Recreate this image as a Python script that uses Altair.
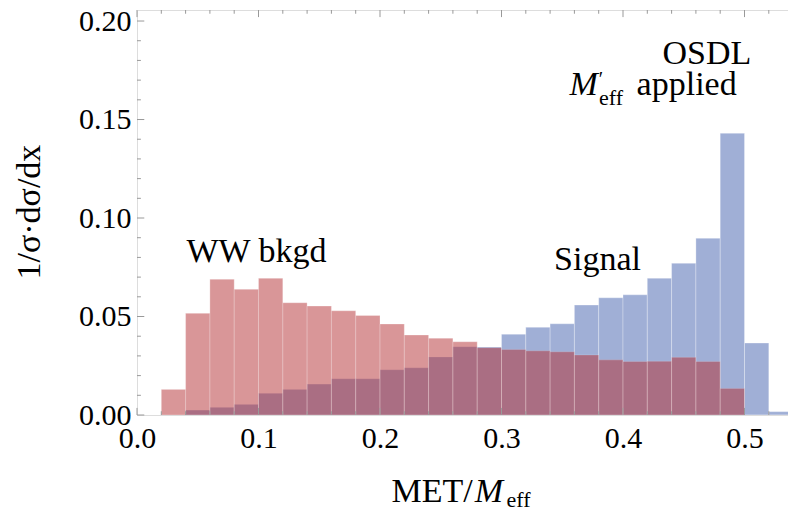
import altair as alt
import pandas as pd

# ---- data ----
bin_start = [0.02, 0.04, 0.06, 0.08, 0.10, 0.12, 0.14, 0.16, 0.18, 0.20, 0.22, 0.24, 0.26,
             0.28, 0.30, 0.32, 0.34, 0.36, 0.38, 0.40, 0.42, 0.44, 0.46, 0.48, 0.50, 0.52]
bin_width = 0.02
ww_bkgd = [0.0130, 0.0516, 0.0689, 0.0638, 0.0694, 0.0570, 0.0553, 0.0529, 0.0505, 0.0462,
           0.0406, 0.0390, 0.0372, 0.0342, 0.0333, 0.0326, 0.0321, 0.0305, 0.0280, 0.0272,
           0.0273, 0.0293, 0.0272, 0.0135, 0.0, 0.0]
signal = [0.0, 0.0025, 0.0039, 0.0054, 0.0110, 0.0130, 0.0157, 0.0184, 0.0184, 0.0230,
          0.0240, 0.0295, 0.0347, 0.0345, 0.0410, 0.0445, 0.0463, 0.0558, 0.0595, 0.0610,
          0.0694, 0.0770, 0.0897, 0.1430, 0.0365, 0.0017]

x_labels = [0.0, 0.1, 0.2, 0.3, 0.4, 0.5]
y_labels = [0.00, 0.05, 0.10, 0.15, 0.20]
x_minor_step = 0.02
y_minor_step = 0.01

X_MAX = 0.5358
Y_MAX = 0.2056

bars = pd.DataFrame({
    "x": bin_start,
    "x2": [b + bin_width for b in bin_start],
    "ww": ww_bkgd,
    "sig": signal,
})

xs = alt.Scale(domain=[0, X_MAX], nice=False, zero=False)
ys = alt.Scale(domain=[0, Y_MAX], nice=False, zero=False)

FONT = "'Liberation Serif', 'Times New Roman', Times, serif"

base = alt.Chart(bars)

x_axis = alt.Axis(values=x_labels, format=".1f", labelFont=FONT, labelFontSize=30,
                  labelColor="black", domain=False, ticks=False, tickSize=0, grid=False,
                  labelPadding=8, labelFlush=False, labelOverlap=False, title=None)
y_axis = alt.Axis(values=y_labels, format=".2f", labelFont=FONT, labelFontSize=30,
                  labelColor="black", domain=False, ticks=False, tickSize=0, grid=False,
                  labelPadding=6, labelFlush=False, labelOverlap=False, title=None)

sig_bars = base.mark_rect(color="#A0AFD6", stroke="white", strokeOpacity=0.35,
                          strokeWidth=0.8, clip=True).encode(
    x=alt.X("x:Q", scale=xs, axis=x_axis),
    x2="x2:Q",
    y=alt.Y("sig:Q", scale=ys, axis=y_axis),
    y2=alt.datum(0),
)
ww_bars = base.mark_rect(color="#B52F33", opacity=0.5, stroke="white", strokeOpacity=0.35,
                         strokeWidth=0.8, clip=True).encode(
    x=alt.X("x:Q", scale=xs),
    x2="x2:Q",
    y=alt.Y("ww:Q", scale=ys),
    y2=alt.datum(0),
)

# ---- frame ticks (inward, Mathematica style) ----
tick_rows = []
n_x = int(round(0.52 / x_minor_step))
for i in range(n_x + 1):
    v = round(i * x_minor_step, 4)
    major = abs(v * 10 - round(v * 10)) < 1e-6
    L = 0.0036 if major else 0.0019
    tick_rows.append({"x": v, "x2": v, "y": 0.0, "y2": L})
    tick_rows.append({"x": v, "x2": v, "y": Y_MAX, "y2": Y_MAX - L})
n_y = int(round(0.20 / y_minor_step))
for i in range(n_y + 1):
    v = round(i * y_minor_step, 4)
    major = abs(v * 20 - round(v * 20)) < 1e-6
    L = 0.0060 if major else 0.0032
    tick_rows.append({"x": 0.0, "x2": L, "y": v, "y2": v})
ticks = alt.Chart(pd.DataFrame(tick_rows)).mark_rule(color="#999999", strokeWidth=1).encode(
    x=alt.X("x:Q", scale=xs), x2="x2:Q",
    y=alt.Y("y:Q", scale=ys), y2="y2:Q",
)

# ---- annotations and titles (data coordinates) ----
reg_text = pd.DataFrame([
    {"t": "WW bkgd", "x": 0.0984, "y": 0.0777, "s": 34, "a": "center"},
    {"t": "Signal", "x": 0.3790, "y": 0.0736, "s": 34, "a": "center"},
    {"t": "OSDL", "x": 0.4690, "y": 0.1782, "s": 34, "a": "center"},
    {"t": "applied", "x": 0.4112, "y": 0.1624, "s": 34, "a": "left"},
    {"t": "eff", "x": 0.3803, "y": 0.1574, "s": 22, "a": "left"},
    {"t": "\u2032", "x": 0.3800, "y": 0.1670, "s": 20, "a": "left"},
    {"t": "MET/", "x": 0.2095, "y": -0.0442, "s": 34, "a": "left"},
    {"t": "eff", "x": 0.3042, "y": -0.0465, "s": 22, "a": "left"},
])
ital_text = pd.DataFrame([
    {"t": "M", "x": 0.3560, "y": 0.1624, "s": 34, "a": "left"},
    {"t": "M", "x": 0.2779, "y": -0.0442, "s": 34, "a": "left"},
])

def text_layer(df, style):
    layers = []
    for a in ["left", "center"]:
        sub = df[df["a"] == a]
        if len(sub) == 0:
            continue
        kw = dict(font=FONT, align=a, baseline="alphabetic", color="black")
        if style:
            kw["fontStyle"] = style
        layers.append(alt.Chart(sub).mark_text(**kw).encode(
            x=alt.X("x:Q", scale=xs), y=alt.Y("y:Q", scale=ys),
            text="t:N", size=alt.Size("s:Q", scale=None),
        ))
    return layers

ytitle = alt.Chart(pd.DataFrame([{"t": "1/\u03c3\u00b7d\u03c3/dx", "x": -0.0884, "y": 0.1030}])).mark_text(
    font=FONT, fontSize=34, angle=270, align="center", baseline="middle", color="black"
).encode(x=alt.X("x:Q", scale=xs), y=alt.Y("y:Q", scale=ys), text="t:N")

chart = alt.layer(
    sig_bars, ww_bars, ticks, *text_layer(reg_text, None), *text_layer(ital_text, "italic"), ytitle
).properties(
    width=651, height=405,
    autosize=alt.AutoSizeParams(type="none"),
    padding={"left": 137, "top": 10, "right": 0, "bottom": 96},
).configure_view(stroke="#A0A0A0", strokeWidth=1).configure(background="white")

chart.save("out.html", embed_options={"renderer": "svg", "actions": False})
